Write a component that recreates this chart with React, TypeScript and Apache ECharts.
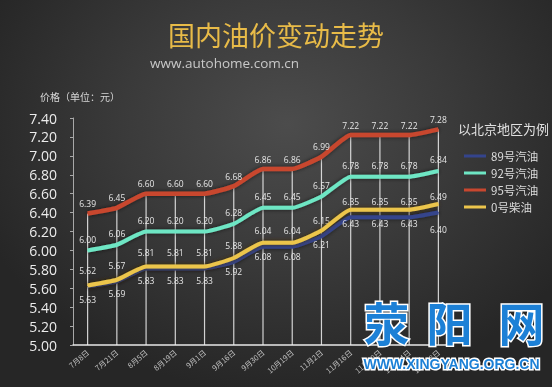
import React, { useEffect, useRef } from "react";
import * as echarts from "echarts";

const categories = ["7月8日", "7月21日", "8月5日", "8月19日", "9月1日", "9月16日", "9月30日", "10月19日", "11月2日", "11月16日", "11月30日", "12月14日", "12月28日"];
const yTicks = { min: 5.0, max: 7.4, interval: 0.2 };
const s89 = [5.62, 5.67, 5.81, 5.81, 5.81, 5.88, 6.04, 6.04, 6.15, 6.35, 6.35, 6.35, 6.40];
const s92 = [6.0, 6.06, 6.2, 6.2, 6.2, 6.28, 6.45, 6.45, 6.57, 6.78, 6.78, 6.78, 6.84];
const s95 = [6.39, 6.45, 6.6, 6.6, 6.6, 6.68, 6.86, 6.86, 6.99, 7.22, 7.22, 7.22, 7.28];
const s0 = [5.63, 5.69, 5.83, 5.83, 5.83, 5.92, 6.08, 6.08, 6.21, 6.43, 6.43, 6.43, 6.49];
const seriesNames = ["89号汽油", "92号汽油", "95号汽油", "0号柴油"];
const seriesColors = ["#34448c", "#6ee6c4", "#c8472f", "#ecc54c"];

const LABEL_FONT = "'Open Sans', 'DejaVu Sans', sans-serif";
const CJK = "'Noto Sans CJK SC', 'Noto Sans', sans-serif";

export default function App() {
  const ref = useRef<HTMLDivElement>(null);
  useEffect(() => {
    if (!ref.current) return;
    const chart = echarts.init(ref.current, undefined, { renderer: "svg" });
    const label = (pos: string, dist: number) => ({
      show: true,
      position: pos,
      distance: dist,
      fontSize: 8.5,
      color: "#e6e6e6",
      fontFamily: LABEL_FONT,
      formatter: (p: any) => Number(p.value).toFixed(2),
    });
    const last = categories.length - 1;
    const d89 = s89.map((v, i) => (i === last ? { value: v, label: { position: "bottom", distance: 12 } } : v));
    const d0 = s0.map((v, i) => (i === last ? { value: v, label: { position: "top", distance: 3 } } : v));
    const lineBase = (idx: number, data: any[], width: number, shadow: string, lbl: any, z: number) => ({
      name: seriesNames[idx],
      type: "line",
      data,
      smooth: 0.15,
      symbol: "circle",
      symbolSize: 1,
      showSymbol: true,
      itemStyle: { color: seriesColors[idx] },
      lineStyle: { color: seriesColors[idx], width, shadowColor: shadow, shadowBlur: 4 },
      label: lbl,
      z,
    });
    chart.setOption({
      animation: false,
      backgroundColor: "transparent",
      graphic: [
        {
          type: "text",
          left: "center",
          top: 21,
          style: {
            text: "国内油价变动走势",
            font: `27px ${CJK}`,
            fill: "#e8bb48",
            shadowColor: "rgba(250,215,110,0.8)",
            shadowBlur: 6,
          },
        },
        {
          type: "text",
          left: 150,
          top: 56,
          style: { text: "www.autohome.com.cn", font: `13.5px ${LABEL_FONT}`, fill: "#c8c8c8" },
        },
        {
          type: "text",
          left: 40,
          top: 91,
          style: { text: "价格（单位：元）", font: `10px ${CJK}`, fill: "#d8d8d8" },
        },
        {
          type: "text",
          left: 458,
          top: 122,
          style: { text: "以北京地区为例", font: `13px ${CJK}`, fill: "#e0e0e0" },
        },
        {
          type: "text",
          left: 362,
          top: 296,
          z: 100,
          style: { text: "荥", font: `bold 46px ${CJK}`, fill: "#1c80d6", stroke: "#ffffff", lineWidth: 3 },
        },
        {
          type: "text",
          left: 425,
          top: 296,
          z: 100,
          style: { text: "阳", font: `bold 46px ${CJK}`, fill: "#1c80d6", stroke: "#ffffff", lineWidth: 3 },
        },
        {
          type: "text",
          left: 497,
          top: 296,
          z: 100,
          style: { text: "网", font: `bold 46px ${CJK}`, fill: "#1c80d6", stroke: "#ffffff", lineWidth: 3 },
        },
        {
          type: "text",
          left: 362,
          top: 355,
          z: 100,
          style: {
            text: "WWW.XINGYANG.ORG.CN",
            font: `bold 14px 'Liberation Sans', Arial, sans-serif`,
            fill: "#1c80d6",
            stroke: "#ffffff",
            lineWidth: 3,
          },
        },
      ],
      legend: {
        data: seriesNames,
        orient: "vertical",
        left: 459,
        top: 145,
        itemWidth: 22,
        itemHeight: 3,
        itemGap: 5,
        icon: "rect",
        textStyle: { color: "#dcdcdc", fontSize: 11.5, fontFamily: CJK, lineHeight: 12 },
      },
      grid: { left: 73, right: 99, top: 118, bottom: 42 },
      xAxis: {
        type: "category",
        data: categories,
        boundaryGap: true,
        axisLine: { lineStyle: { color: "#e8e8e8", width: 1.5 } },
        axisTick: { show: false },
        axisLabel: { rotate: 40, fontSize: 7.5, color: "#c0c0c0", fontFamily: CJK, margin: 6, interval: 0 },
        splitLine: { show: false },
      },
      yAxis: {
        type: "value",
        min: yTicks.min,
        max: yTicks.max,
        interval: yTicks.interval,
        axisLine: { show: true, lineStyle: { color: "#a8a8a8" } },
        axisTick: { show: true, length: 3, lineStyle: { color: "#a8a8a8" } },
        axisLabel: {
          color: "#ececec",
          fontSize: 14,
          fontFamily: LABEL_FONT,
          margin: 16,
          formatter: (v: number) => v.toFixed(2),
        },
        splitLine: { show: false },
      },
      series: [
        {
          name: "drop",
          type: "custom",
          data: s95.map((v, i) => [i, v]),
          z: 1,
          silent: true,
          renderItem: (params: any, api: any) => {
            const top = api.coord([api.value(0), api.value(1)]);
            const bottom = api.coord([api.value(0), yTicks.min]);
            return {
              type: "line",
              shape: { x1: top[0], y1: top[1], x2: bottom[0], y2: bottom[1] },
              style: { stroke: "rgba(240,240,240,0.85)", lineWidth: 1.2 },
            };
          },
        },
        lineBase(0, d89, 4, "rgba(0,0,0,0.6)", label("top", 11), 3),
        lineBase(1, s92, 4, "rgba(0,0,0,0.6)", label("top", 6), 3),
        lineBase(2, s95, 4.5, "rgba(0,0,0,0.6)", label("top", 5), 3),
        lineBase(3, d0, 4, "rgba(60,40,0,0.9)", label("bottom", 9), 4),
      ],
    });
    return () => chart.dispose();
  }, []);
  return (
    <div
      style={{
        position: "fixed",
        left: 0,
        top: 0,
        width: 552,
        height: 387,
        background: "radial-gradient(ellipse 60% 70% at 52% 32%, #4c4c4c 0%, #3a3a3a 50%, #262626 100%)",
      }}
    >
      <div ref={ref} style={{ width: 552, height: 387 }} />
    </div>
  );
}
